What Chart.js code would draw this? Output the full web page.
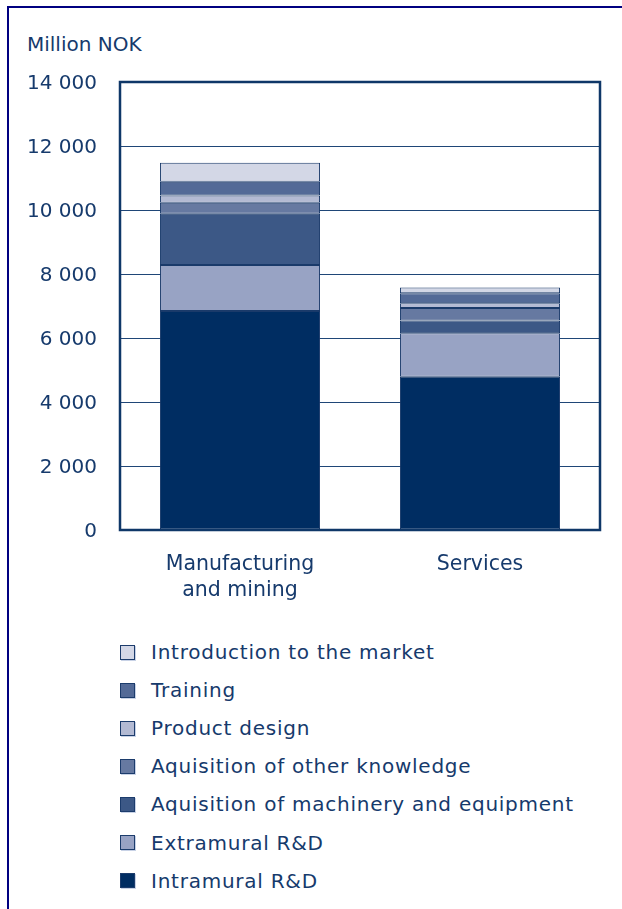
<!DOCTYPE html>
<html>
<head>
<meta charset="utf-8">
<script src="https://cdn.jsdelivr.net/npm/chart.js@4/dist/chart.umd.min.js"></script>
<style>
  html, body { margin: 0; padding: 0; background: #fff; }
  body { width: 622px; height: 909px; position: relative; overflow: hidden; font-family: "DejaVu Sans", Verdana, sans-serif; color: #163a6c; }
  #frame { position: absolute; left: 7px; top: 6px; right: -10px; bottom: -10px; border-left: 2px solid #000080; border-top: 2px solid #000080; }
  #unit { position: absolute; left: 27px; top: 32px; font-size: 20px; }
  #chart-wrap { position: absolute; left: 0; top: 0; width: 622px; height: 620px; }
  #legend { position: absolute; left: 120px; top: 633px; }
  .legend-row { display: flex; align-items: center; height: 38.1px; font-size: 20px; letter-spacing: 0.75px; white-space: nowrap; }
  .legend-box { width: 13px; height: 13px; border: 1px solid #1c3c6c; margin-right: 16px; box-shadow: 1px 1px 0 #c8d2e6; }
</style>
</head>
<body>
<div id="frame"></div>
<div id="unit">Million NOK</div>
<div id="chart-wrap"><canvas id="innovationChart" width="622" height="620"></canvas></div>
<div id="legend"></div>

<script>
// Categories and y ticks
const sectors = [['Manufacturing', 'and mining'], 'Services'];
const yTicks = [0, 2000, 4000, 6000, 8000, 10000, 12000, 14000];

// Innovation costs, million NOK (bottom of the stack first)
const intramuralRD = [6840, 4790];
const extramuralRD = [1440, 1360];
const machineryEquipment = [1600, 395];
const otherKnowledge = [345, 390];
const productDesign = [230, 150];
const training = [430, 310];
const marketIntroduction = [590, 185];

const textColor = '#163a6c';
const lineColor = '#0f3768';

const series = [
  { label: 'Intramural R&D', data: intramuralRD, color: '#002d62' },
  { label: 'Extramural R&D', data: extramuralRD, color: '#98a3c4' },
  { label: 'Aquisition of machinery and equipment', data: machineryEquipment, color: '#3c5886' },
  { label: 'Aquisition of other knowledge', data: otherKnowledge, color: '#6679a1' },
  { label: 'Product design', data: productDesign, color: '#b3bad3' },
  { label: 'Training', data: training, color: '#536a97' },
  { label: 'Introduction to the market', data: marketIntroduction, color: '#d3d7e6' }
];

// "14 000" style numbers
const formatThousands = (v) => String(v).replace(/\B(?=(\d{3})+(?!\d))/g, ' ');

// Frame around the plot area
const plotBorder = {
  id: 'plotBorder',
  afterDatasetsDraw(chart) {
    const { ctx, chartArea: a } = chart;
    ctx.save();
    ctx.strokeStyle = lineColor;
    ctx.lineWidth = 2.5;
    ctx.strokeRect(a.left, a.top, a.right - a.left, a.bottom - a.top);
    ctx.restore();
  }
};

const chart = new Chart(document.getElementById('innovationChart'), {
  type: 'bar',
  data: {
    labels: sectors,
    datasets: series.map(s => ({
      label: s.label,
      data: s.data,
      backgroundColor: s.color,
      borderColor: '#1a3a6a',
      borderWidth: 1,
      borderSkipped: false,
      barPercentage: 0.667,
      categoryPercentage: 1
    }))
  },
  options: {
    responsive: false,
    animation: false,
    layout: { padding: { top: 82, right: 22, left: 0, bottom: 0 } },
    plugins: {
      legend: { display: false },
      tooltip: { enabled: false }
    },
    scales: {
      x: {
        stacked: true,
        grid: { display: false, drawTicks: false },
        border: { display: false },
        ticks: {
          color: textColor,
          font: { family: 'DejaVu Sans', size: 20.5, lineHeight: 1.25 },
          padding: 22,
          maxRotation: 0
        },
        afterFit: (scale) => { scale.height = 90; }
      },
      y: {
        stacked: true,
        min: 0,
        max: 14000,
        afterBuildTicks: (scale) => { scale.ticks = yTicks.map(v => ({ value: v })); },
        grid: { color: '#1f4677', lineWidth: 1, drawTicks: false },
        border: { display: false },
        ticks: {
          color: textColor,
          font: { family: 'DejaVu Sans', size: 20 },
          padding: 23,
          labelOffset: 2,
          callback: (v) => formatThousands(v)
        },
        afterFit: (scale) => { scale.width = 120; }
      }
    }
  },
  plugins: [plotBorder]
});

// Vertical legend, top of the stack first
const legend = document.getElementById('legend');
chart.data.datasets.slice().reverse().forEach(ds => {
  const row = document.createElement('div');
  row.className = 'legend-row';
  const box = document.createElement('span');
  box.className = 'legend-box';
  box.style.background = ds.backgroundColor;
  const text = document.createElement('span');
  text.innerText = ds.label;
  row.appendChild(box);
  row.appendChild(text);
  legend.appendChild(row);
});
</script>
</body>
</html>
